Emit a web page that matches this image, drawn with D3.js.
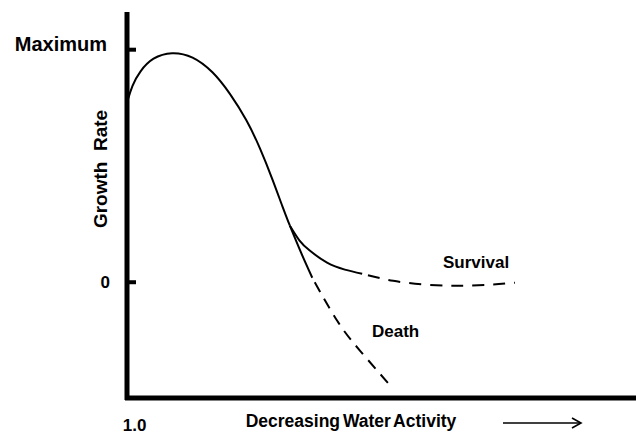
<!DOCTYPE html>
<html>
<head>
<meta charset="utf-8">
<script src="https://cdn.jsdelivr.net/npm/d3@7"></script>
<style>
  html, body { margin: 0; padding: 0; background: #fff; }
  svg { display: block; }
  text { font-family: "Liberation Sans", Arial, Helvetica, sans-serif; font-weight: bold; fill: #000; }
</style>
</head>
<body>
<svg id="chart" width="636" height="435"></svg>
<script>
// ---- data (x: arbitrary units of decreasing water activity, y: growth rate, Maximum = 1) ----
const growthX = [0, 1.0, 2.5, 5.0, 8.8, 12.9, 16.9, 20.2, 23.6, 26.1, 28.7, 30.6, 32.0];
const growthY = [0.77, 0.845, 0.905, 0.965, 0.99, 0.972, 0.905, 0.812, 0.694, 0.578, 0.435, 0.319, 0.241];

const survivalSolidX = [32.0, 33.9, 35.9, 39.3, 42.8, 46.2];
const survivalSolidY = [0.241, 0.177, 0.134, 0.082, 0.052, 0.034];
const survivalDashX = [46.2, 52.3, 59.0, 65.4, 71.3, 76.2];
const survivalDashY = [0.034, 0.004, -0.013, -0.017, -0.013, -0.004];

const deathSolidX = [32.0, 34.2, 36.4];
const deathSolidY = [0.241, 0.125, 0.017];
const deathDashX = [36.4, 41.3, 45.8, 52.3];
const deathDashY = [0.017, -0.168, -0.297, -0.461];

const yTickValues = [0, 1];
const yTickLabels = ["0", "Maximum"];
const xTickValues = [1.4];
const xTickLabels = ["1.0"];

// ---- scales ----
const svg = d3.select("#chart");
const x = d3.scaleLinear().domain([0, 100]).range([127, 636]);
const y = d3.scaleLinear().domain([-0.5, 1.16]).range([398, 12]);

const zip = (xs, ys) => xs.map((v, i) => [v, ys[i]]);
const smooth = d3.line().x(d => x(d[0])).y(d => y(d[1])).curve(d3.curveBasis);
const line = d3.line().x(d => x(d[0])).y(d => y(d[1])).curve(d3.curveNatural);

// ---- curves ----
svg.append("path").attr("d", smooth(zip(growthX, growthY)))
  .attr("fill", "none").attr("stroke", "#000").attr("stroke-width", 2);
svg.append("path").attr("d", line(zip(survivalSolidX, survivalSolidY)))
  .attr("fill", "none").attr("stroke", "#000").attr("stroke-width", 2);
svg.append("path").attr("d", line(zip(survivalDashX, survivalDashY)))
  .attr("fill", "none").attr("stroke", "#000").attr("stroke-width", 2)
  .attr("stroke-dasharray", "12,9").attr("stroke-dashoffset", -6);
svg.append("path").attr("d", line(zip(deathSolidX, deathSolidY)))
  .attr("fill", "none").attr("stroke", "#000").attr("stroke-width", 2);
svg.append("path").attr("d", line(zip(deathDashX, deathDashY)))
  .attr("fill", "none").attr("stroke", "#000").attr("stroke-width", 2)
  .attr("stroke-dasharray", "11,8").attr("stroke-dashoffset", -5);

// ---- y axis ----
const yAxis = d3.axisLeft(y).tickValues(yTickValues)
  .tickFormat((d, i) => yTickLabels[i]).tickSize(-9).tickSizeOuter(0).tickPadding(17);
const gy = svg.append("g").attr("transform", `translate(${x(0)},0)`).call(yAxis);
gy.select(".domain").attr("stroke", "#000").attr("stroke-width", 5)
  .attr("d", `M0,${y(1.16)}V${y(-0.5) + 2}`);
gy.selectAll(".tick line").attr("stroke", "#000").attr("stroke-width", 4);
gy.selectAll(".tick text")
  .style("font-size", (d) => d === 1 ? "20px" : "17px")
  .attr("dx", (d) => d === 1 ? -3 : 0)
  .attr("dy", (d) => d === 1 ? "0.05em" : "0.32em");

// ---- x axis ----
const xAxis = d3.axisBottom(x).tickValues(xTickValues)
  .tickFormat((d, i) => xTickLabels[i]).tickSize(0).tickSizeOuter(0).tickPadding(21);
const gx = svg.append("g").attr("transform", `translate(0,${y(-0.5)})`).call(xAxis);
gx.select(".domain").attr("stroke", "#000").attr("stroke-width", 5)
  .attr("d", `M${x(0) - 2},0H636`);
gx.selectAll(".tick text").style("font-size", "17px");

// ---- labels ----
svg.append("text").attr("x", 351).attr("y", 427).attr("text-anchor", "middle")
  .style("font-size", "17.5px").style("word-spacing", "-2px").text("Decreasing Water Activity");

svg.append("text").attr("transform", "translate(107,169) rotate(-90)")
  .attr("text-anchor", "middle").style("font-size", "19px")
  .attr("xml:space", "preserve").style("white-space", "pre").text("Growth  Rate");

svg.append("text").attr("x", 443).attr("y", 268).style("font-size", "17px").text("Survival");
svg.append("text").attr("x", 372).attr("y", 337).style("font-size", "17px").text("Death");

// arrow
svg.append("line").attr("x1", 503).attr("x2", 580).attr("y1", 423).attr("y2", 423)
  .attr("stroke", "#000").attr("stroke-width", 1.6);
svg.append("path").attr("d", "M572,418L581,423L572,428")
  .attr("fill", "none").attr("stroke", "#000").attr("stroke-width", 1.6);
</script>
</body>
</html>
